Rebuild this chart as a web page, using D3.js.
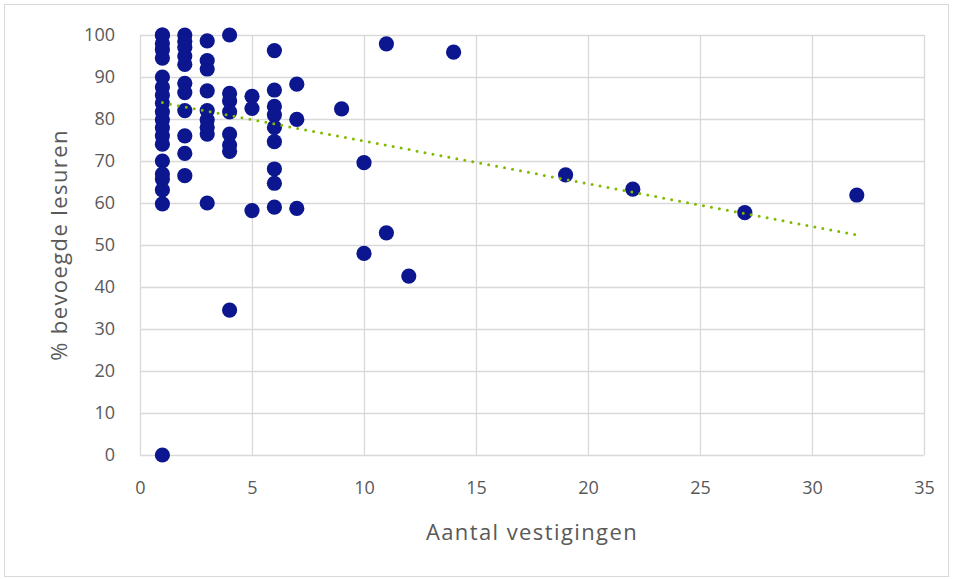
<!DOCTYPE html>
<html>
<head>
<meta charset="utf-8">
<script src="https://cdn.jsdelivr.net/npm/d3@7"></script>
<style>
  body { margin: 0; background: #fff; }
  text { font-family: "Open Sans", sans-serif; fill: #595959; }
</style>
</head>
<body>
<div id="container"></div>
<script>
// aantal vestigingen per bestuur
const vestigingen = [
  1, 1, 1, 1, 1, 1, 1, 1, 1, 1, 1, 1, 1, 1, 1, 1, 1, 1, 1, 1,
  2, 2, 2, 2, 2, 2, 2, 2, 2, 2, 2,
  3, 3, 3, 3, 3, 3, 3, 3, 3,
  4, 4, 4, 4, 4, 4, 4, 4,
  5, 5, 5,
  6, 6, 6, 6, 6, 6, 6, 6, 6,
  7, 7, 7,
  9, 10, 10, 11, 11, 12, 14, 19, 22, 27, 32
];
// % bevoegde lesuren
const bevoegd = [
  100, 100, 98, 96.5, 94.5, 90, 87.6, 85.7, 83.8, 81.7, 79.8, 77.9, 76, 74, 70, 66.9, 65.7, 63.1, 59.8, 0,
  100, 98.5, 97, 95, 93, 88.5, 86.3, 82, 76, 71.8, 66.5,
  98.6, 93.9, 91.9, 86.7, 82, 79.8, 78, 76.4, 60,
  100, 86.1, 84.3, 81.7, 76.4, 73.8, 72.3, 34.5,
  85.4, 82.5, 58.2,
  96.3, 86.9, 83, 81, 78, 74.6, 68.1, 64.7, 59,
  88.3, 79.9, 58.7,
  82.4, 69.6, 48, 97.9, 52.9, 42.6, 95.9, 66.7, 63.3, 57.7, 61.9
];
// lineaire trendlijn (begin- en eindpunt)
const trendX = [1, 32];
const trendY = [83.9, 52.4];

const xTicks = [0, 5, 10, 15, 20, 25, 30, 35];
const yTicks = [0, 10, 20, 30, 40, 50, 60, 70, 80, 90, 100];

const width = 953;
const height = 579;
const margin = { top: 35, right: 29, bottom: 124, left: 140 };

const svg = d3.select("#container").append("svg")
  .attr("width", width)
  .attr("height", height);

// chart frame
svg.append("rect")
  .attr("x", 4.5).attr("y", 4.5)
  .attr("width", width - 9).attr("height", height - 7)
  .attr("fill", "none")
  .attr("stroke", "#d9d9d9");

const x = d3.scaleLinear()
  .domain([0, 35])
  .range([margin.left, width - margin.right]);

const y = d3.scaleLinear()
  .domain([0, 100])
  .range([height - margin.bottom, margin.top]);

// gridlines
svg.append("g")
  .attr("transform", `translate(${margin.left},0)`)
  .call(d3.axisLeft(y).tickValues(yTicks)
    .tickSize(-(width - margin.left - margin.right)).tickFormat(""))
  .call(g => g.select(".domain").remove())
  .call(g => g.selectAll("line").attr("stroke", "#d9d9d9").attr("stroke-width", 1.3));

svg.append("g")
  .attr("transform", `translate(0,${height - margin.bottom})`)
  .call(d3.axisBottom(x).tickValues(xTicks)
    .tickSize(-(height - margin.top - margin.bottom)).tickFormat(""))
  .call(g => g.select(".domain").remove())
  .call(g => g.selectAll("line").attr("stroke", "#d9d9d9").attr("stroke-width", 1.3));

// tick labels
svg.append("g")
  .attr("transform", `translate(${margin.left},0)`)
  .call(d3.axisLeft(y).tickValues(yTicks).tickSize(0).tickPadding(25))
  .call(g => g.select(".domain").remove())
  .call(g => g.selectAll("text").style("font-size", "18px").attr("fill", "#595959"));

svg.append("g")
  .attr("transform", `translate(0,${height - margin.bottom})`)
  .call(d3.axisBottom(x).tickValues(xTicks).tickSize(0).tickPadding(26))
  .call(g => g.select(".domain").remove())
  .call(g => g.selectAll("text").style("font-size", "18px").attr("fill", "#595959"));

// points
svg.append("g")
  .selectAll("circle")
  .data(vestigingen.map((v, i) => ({ v, p: bevoegd[i] })))
  .join("circle")
  .attr("cx", d => x(d.v))
  .attr("cy", d => y(d.p))
  .attr("r", 7.6)
  .attr("fill", "#0b168f");

// trendline
svg.append("path")
  .datum(trendX.map((v, i) => [v, trendY[i]]))
  .attr("fill", "none")
  .attr("stroke", "#7fba00")
  .attr("stroke-width", 3)
  .attr("stroke-linecap", "round")
  .attr("stroke-dasharray", "0,8.1")
  .attr("d", d3.line().x(d => x(d[0])).y(d => y(d[1])));

// axis titles
svg.append("text")
  .attr("x", (margin.left + width - margin.right) / 2)
  .attr("y", 540)
  .style("text-anchor", "middle")
  .style("font-size", "22px")
  .style("letter-spacing", "1.4px")
  .text("Aantal vestigingen");

svg.append("text")
  .attr("transform", `translate(67, ${(margin.top + height - margin.bottom) / 2}) rotate(-90)`)
  .style("text-anchor", "middle")
  .style("font-size", "22px")
  .style("letter-spacing", "1.4px")
  .text("% bevoegde lesuren");
</script>
</body>
</html>
